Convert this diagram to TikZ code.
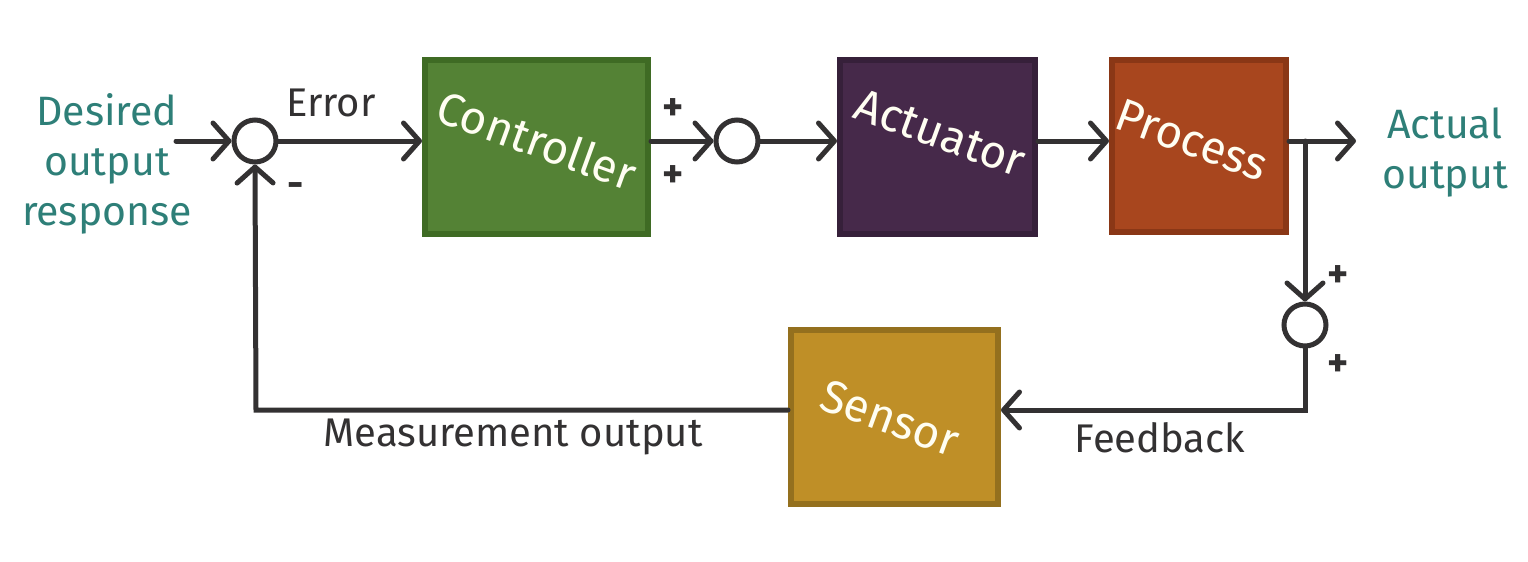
\documentclass[tikz,border=0pt]{standalone}
\usepackage{fontspec}
\setmainfont{Fira Sans}
\usetikzlibrary{arrows.meta}
\definecolor{ink}{HTML}{333132}
\definecolor{teal}{HTML}{2E7F78}
\definecolor{ctrlF}{HTML}{548235}
\definecolor{ctrlB}{HTML}{3F6B24}
\definecolor{actF}{HTML}{46294A}
\definecolor{actB}{HTML}{36203A}
\definecolor{procF}{HTML}{A8461E}
\definecolor{procB}{HTML}{8A3716}
\definecolor{senF}{HTML}{BF8F27}
\definecolor{senB}{HTML}{94701E}
\tikzset{
  blk/.style={draw, line width=3pt, inner sep=0pt, anchor=north west},
  btxt/.style={text=white!95!yellow, font=\fontsize{23}{26}\selectfont, rotate=-20},
  sumc/.style={circle, draw=ink, line width=2.5pt, minimum size=21pt, inner sep=0pt, fill=white},
  conn/.style={draw=ink, line width=2.5pt, line cap=round, line join=miter},
  arr/.style={conn, -{Straight Barb[length=8pt, width=18pt, line width=2.5pt, round]}},
  lbl/.style={text=ink, font=\fontsize{20}{22}\selectfont},
  sgn/.style={text=ink, font=\fontsize{20}{20}\selectfont\bfseries},
  tlbl/.style={text=teal, font=\fontsize{20.5}{25}\selectfont, align=center},
}
\begin{document}
\begin{tikzpicture}[x=0.5pt, y=-0.5pt]
\useasboundingbox[fill=white] (0,0) rectangle (1528,562);
% blocks
\node[blk, fill=ctrlF, draw=ctrlB, minimum width=111.5pt, minimum height=87pt] (ctrl) at (422,57) {};
\node[blk, fill=actF, draw=actB, minimum width=97.5pt, minimum height=87pt] (act) at (837,57) {};
\node[blk, fill=procF, draw=procB, minimum width=87pt, minimum height=86pt] (proc) at (1109,57) {};
\node[blk, fill=senF, draw=senB, minimum width=103.5pt, minimum height=87pt] (sen) at (788,327) {};
\node[btxt] at (537,140) {Controller};
\node[btxt] at (940,133) {Actuator};
\node[btxt] at (1192,140) {Process};
\node[btxt] at (890,418) {Sensor};
% summing junctions
\node[sumc] (s1) at (255,141) {};
\node[sumc] (s2) at (737,141) {};
\node[sumc] (s3) at (1305,325) {};
% coordinates
\coordinate (in) at (176,141);
\coordinate (out) at (1356,141);
\coordinate (br) at (1305,141);
\coordinate (fbc) at (1305,410);
\coordinate (mc) at (256,410);
% connectors
\draw[arr] (in) -- (s1.west);
\draw[arr] (s1.east) -- (s1.east -| ctrl.west);
\draw[arr] (ctrl.east |- s2) -- (s2.west);
\draw[arr] (s2.east) -- (s2.east -| act.west);
\draw[arr] (act.east |- br) -- (proc.west |- br);
\draw[arr] (proc.east |- out) -- (out);
\draw[arr] (br) -- (s3.north);
\draw[arr] (s3.south) -- (fbc) -- (sen.east |- fbc);
\draw[arr] (sen.west |- mc) -- (mc) -- (s1.south);
% labels
\node[tlbl] at (107,164) {Desired\\output\\response};
\node[tlbl] at (1445,152) {Actual\\output};
\node[lbl] at (331,103) {Error};
\node[sgn] at (296,190) {-};
\node[sgn] at (673,110) {+};
\node[sgn] at (673,177) {+};
\node[sgn] at (1338,277) {+};
\node[sgn] at (1338,366) {+};
\node[lbl] at (513,437) {Measurement output};
\node[lbl] at (1160,438) {Feedback};
\end{tikzpicture}
\end{document}
